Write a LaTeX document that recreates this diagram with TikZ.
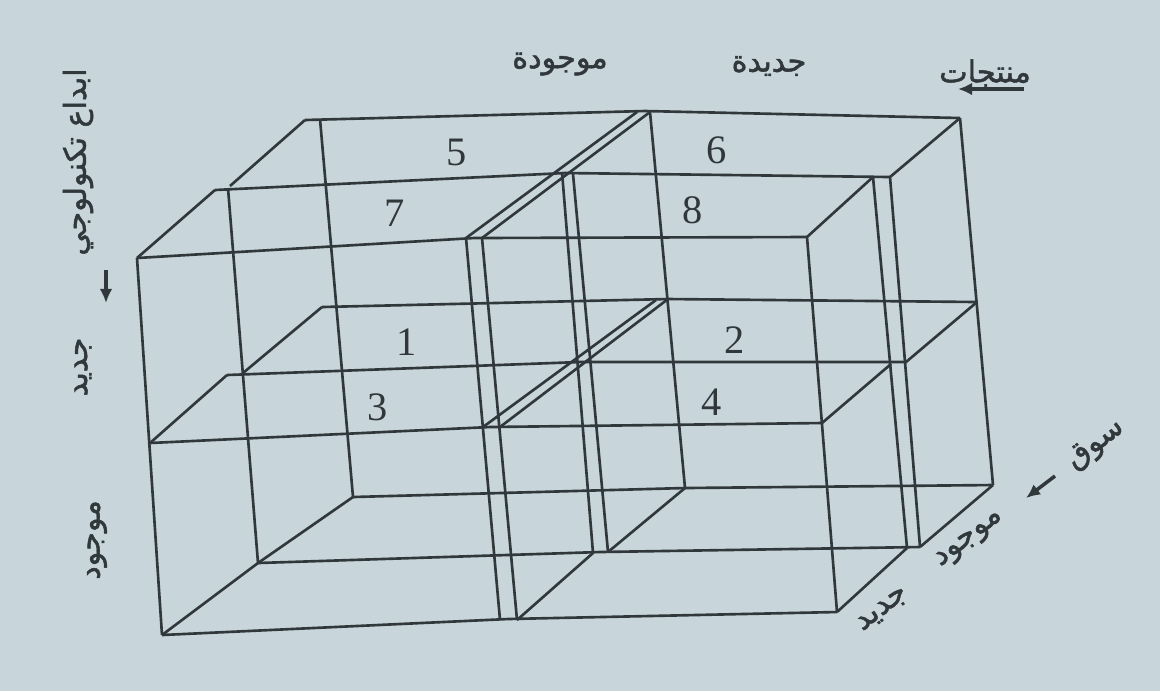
\documentclass[tikz,border=0pt]{standalone}
\usepackage{fontspec}
\setmainfont{Liberation Serif}
\newfontfamily\arabicfont[Script=Arabic,FakeBold=1.6]{DejaVu Sans}
\TeXXeTstate=1
\usetikzlibrary{arrows.meta}
\definecolor{paper}{RGB}{200,213,219}
\definecolor{ink}{RGB}{48,56,60}

\begin{document}
\begin{tikzpicture}[x=0.1mm, y=-0.1mm,
  box/.style={draw=ink, line width=0.75pt, line join=round},
  cellnum/.style={text=ink, font=\fontsize{11.5}{13}\selectfont, inner sep=0pt},
  lbl/.style={text=ink, font=\arabicfont\fontsize{8.6}{10}\selectfont, inner sep=0pt},
  arr/.style={draw=ink, line width=1pt, -{Latex[length=4pt,width=3.6pt]}}]
  \fill[paper] (0,0) rectangle (1160,691);
  \useasboundingbox (0,0) rectangle (1160,691);
  % back layer
  \draw[box] (305,120) -- (645,111) -- (960,118);
  \draw[box] (322,307) -- (668,299) -- (977,302);
  \draw[box] (353,497) -- (685,488) -- (993,485);
  \draw[box] (320,119) -- (353,497);
  \draw[box] (650,112) -- (685,488);
  \draw[box] (960,118) -- (993,485);
  % middle layer
  \draw[box] (215,190) -- (565,173) -- (890,177);
  \draw[box] (227,375) -- (580,362) -- (907,362);
  \draw[box] (258,563) -- (600,552) -- (920,547);
  \draw[box] (228,188) -- (258,563);
  \draw[box] (562,172) -- (593,553);
  \draw[box] (573,174) -- (608,552);
  \draw[box] (873,177) -- (907,548);
  \draw[box] (890,177) -- (920,547);
  % front layer
  \draw[box] (137,258) -- (474,238) -- (807,237);
  \draw[box] (150,443) -- (490,427) -- (822,423);
  \draw[box] (162,635) -- (508,619) -- (837,612);
  \draw[box] (137,258) -- (162,635);
  \draw[box] (466,238) -- (500,620);
  \draw[box] (482,238) -- (517,620);
  \draw[box] (807,237) -- (837,612);
  % depth edges
  \draw[box] (137,258) -- (215,190)  (230,186) -- (305,120);
  \draw[box] (150,443) -- (227,375)  (243,373) -- (322,307);
  \draw[box] (162,635) -- (258,563) -- (353,497);
  \draw[box] (466,238) -- (637,112)  (482,238) -- (650,112);
  \draw[box] (483,427) -- (656,300)  (500,427) -- (668,299);
  \draw[box] (517,620) -- (593,553)  (608,552) -- (685,488);
  \draw[box] (807,237) -- (873,177)  (890,177) -- (960,118);
  \draw[box] (822,423) -- (891,364)  (906,362) -- (977,302);
  \draw[box] (837,612) -- (907,548)  (920,547) -- (993,485);
  % cell numbers
  \foreach \n/\x/\y in {5/457/152, 7/395/213, 1/407/342, 3/378/407,
                        6/717/150, 8/693/210, 2/735/340, 4/712/402}
    \node[cellnum] (cell\n) at (\x,\y) {\n};
  % products axis
  \node[lbl] (prodold) at (560,64) {\beginR موجودة\endR};
  \node[lbl] (prodnew) at (769,66) {\beginR جديدة\endR};
  \node[lbl] (prod) at (985,73) {\beginR منتجات\endR};
  \coordinate (prodtail) at (1024,89);
  \coordinate (prodhead) at (958,89);
  \draw[arr] (prodtail) -- (prodhead);
  % technology axis
  \node[lbl, rotate=90] (tech) at (78,162) {\beginR ابداع تكنولوجي\endR};
  \node[lbl, rotate=90] (technew) at (83,367) {\beginR جديد\endR};
  \node[lbl, rotate=90] (techold) at (97,540) {\beginR موجود\endR};
  \coordinate (techtail) at (106,270);
  \coordinate (techhead) at (106,303);
  \draw[arr] (techtail) -- (techhead);
  % market axis
  \node[lbl, rotate=38] (mktnew) at (883,610) {\beginR جديد\endR};
  \node[lbl, rotate=38] (mktold) at (970,540) {\beginR موجود\endR};
  \node[lbl, rotate=38] (mkt) at (1096,445) {\beginR سوق\endR};
  \coordinate (mkttail) at (1055,476);
  \coordinate (mkthead) at (1026,498);
  \draw[arr] (mkttail) -- (mkthead);
\end{tikzpicture}
\end{document}
